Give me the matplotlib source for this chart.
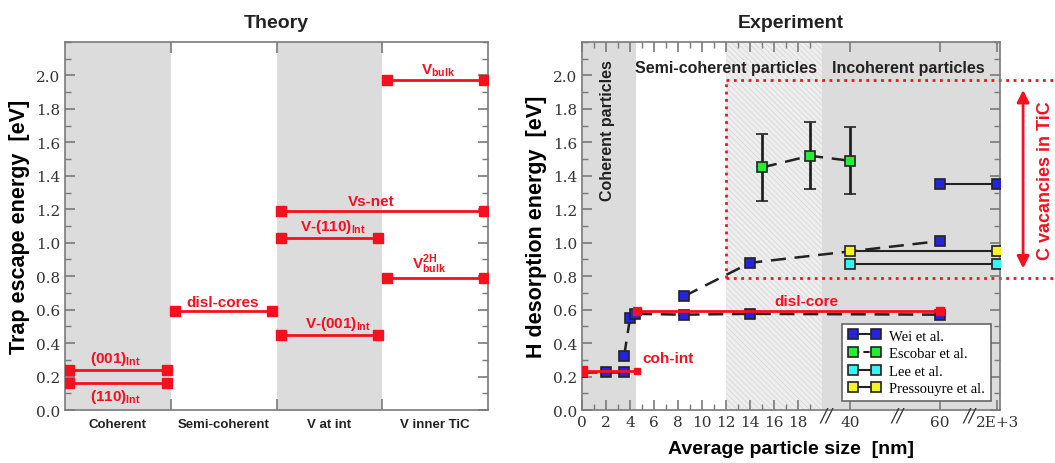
import numpy as np
import matplotlib
matplotlib.use('Agg')
import matplotlib.pyplot as plt
from matplotlib.lines import Line2D
from matplotlib.ticker import MultipleLocator, FixedLocator

plt.rcParams['font.family'] = ['Liberation Sans', 'DejaVu Sans']
plt.rcParams['mathtext.fontset'] = 'custom'
plt.rcParams['mathtext.rm'] = 'Liberation Sans:bold'
plt.rcParams['mathtext.bf'] = 'Liberation Sans:bold'
plt.rcParams['hatch.linewidth'] = 0.5

RED = '#f5101e'
GRAY = '#dcdcdc'
SPINE = '#7a7a7a'
TICKFONT = 'DejaVu Serif'

# ---- theory panel data ----
categories = ['Coherent', 'Semi-coherent', 'V at int', 'V inner TiC']
theory_labels = [r'(001)$_{\mathbf{Int}}$', r'(110)$_{\mathbf{Int}}$', 'disl-cores',
                 r'V-(001)$_{\mathbf{Int}}$', r'V-(110)$_{\mathbf{Int}}$', 'Vs-net',
                 r'V$_{\mathbf{bulk}}$', r'V$_{\mathbf{bulk}}^{\mathbf{2H}}$']
theory_energy = [0.24, 0.16, 0.59, 0.45, 1.03, 1.19, 1.97, 0.79]
theory_first_cat = [0, 0, 1, 2, 2, 2, 3, 3]
theory_last_cat = [0, 0, 1, 2, 2, 3, 3, 3]

# ---- experiment panel data (particle size in nm, energy in eV) ----
wei_low_size = [0, 2, 3.5]
wei_low_e = [0.23, 0.23, 0.23]
wei_disl_size = [3.5, 4, 4.4, 8.5, 14, 60]
wei_disl_e = [0.32, 0.55, 0.575, 0.57, 0.575, 0.57]
wei_vac_size = [8.5, 14, 60]
wei_vac_e = [0.68, 0.88, 1.01]
wei_inc_size = [60, 2000]
wei_inc_e = [1.35, 1.35]
escobar_size = [15, 19, 40]
escobar_e = [1.45, 1.52, 1.49]
escobar_err = [0.2, 0.2, 0.2]
lee_size = [40, 2000]
lee_e = [0.87, 0.87]
pressouyre_size = [40, 2000]
pressouyre_e = [0.95, 0.95]
cohint_size = [0, 4.6]
cohint_e = [0.235, 0.235]
dislcore_size = [4.6, 60]
dislcore_e = [0.59, 0.59]
vac_band = [0.79, 1.97]

size_ticks = [0, 2, 4, 6, 8, 10, 12, 14, 16, 18, 40, 60, 2000]
size_ticklabels = ['0', '2', '4', '6', '8', '10', '12', '14', '16', '18', '40', '60', '2E+3']

# broken axis: real size -> axis position
real_nodes = [0, 20, 40, 60, 2000]
axis_nodes = [0, 20, 22.33, 29.83, 34.6]


def pos(x):
    return np.interp(x, real_nodes, axis_nodes)


def style_axis(ax):
    for s in ax.spines.values():
        s.set_color(SPINE)
        s.set_linewidth(1.2)
    ax.tick_params(which='both', direction='in', top=True, right=True, color=SPINE)
    ax.tick_params(which='major', length=7, width=1.2)
    ax.tick_params(which='minor', length=4, width=1.0)
    ax.set_ylim(0, 2.2)
    ax.yaxis.set_major_locator(MultipleLocator(0.2))
    ax.yaxis.set_minor_locator(MultipleLocator(0.1))
    ax.set_yticks(np.arange(0, 2.01, 0.2))
    ax.set_yticklabels([f'{v:.1f}' for v in np.arange(0, 2.01, 0.2)],
                       fontfamily=TICKFONT, fontsize=11, color='#333333')


fig = plt.figure(figsize=(10.55, 4.64), dpi=100)

# ================= Theory =================
ax1 = fig.add_axes([0.0616, 0.1142, 0.401, 0.7931])
style_axis(ax1)
ax1.set_xlim(0, 4)
for i in range(len(categories)):
    if i % 2 == 0:
        ax1.axvspan(i, i + 1, color=GRAY, lw=0, zorder=0)
ax1.xaxis.set_major_locator(FixedLocator([1, 2, 3]))
ax1.xaxis.set_minor_locator(FixedLocator([0.5, 1.5, 2.5, 3.5]))
ax1.set_xticklabels([])
ax1.set_xticklabels(categories, minor=True, fontsize=9.5, fontweight='bold', color='#222222')
ax1.tick_params(axis='x', which='minor', length=0, pad=6)
ax1.tick_params(axis='x', which='major', length=8)

label_dx = [-0.02, -0.02, -0.01, 0.08, 0.03, -0.1, 0.03, -0.06]
for name, e, c0, c1, dx in zip(theory_labels, theory_energy, theory_first_cat,
                               theory_last_cat, label_dx):
    x0, x1 = c0 + 0.04, c1 + 0.96
    ax1.plot([x0, x1], [e, e], color=RED, lw=2, marker='s', ms=6.5, mec=RED, zorder=3)
    below = name.startswith('(110)')
    ax1.annotate(name, ((x0 + x1) / 2 + dx, e), xytext=(0, -3 if below else 2),
                 textcoords='offset points', ha='center',
                 va='top' if below else 'bottom', color=RED,
                 fontsize=11, fontweight='bold')

ax1.set_ylabel('Trap escape energy  [eV]', fontsize=15.5, fontweight='bold', labelpad=4)
ax1.set_title('Theory', fontsize=14, fontweight='bold', pad=11, color='#222222')

# ================= Experiment =================
ax2 = fig.add_axes([0.5517, 0.1142, 0.3962, 0.7931])
style_axis(ax2)
ax2.set_xlim(0, 34.83)
ax2.axvspan(0, pos(4.5), color=GRAY, lw=0, zorder=0)
ax2.axvspan(pos(12), pos(20), facecolor='#eeeeee', edgecolor='#d4d4d4',
            hatch='\\\\\\\\\\\\', lw=0, zorder=0)
ax2.axvspan(pos(20), 34.83, color=GRAY, lw=0, zorder=0)

ax2.set_xticks(pos(size_ticks))
ax2.set_xticklabels(size_ticklabels, fontfamily=TICKFONT, fontsize=11, color='#333333')
ax2.xaxis.set_minor_locator(FixedLocator(np.arange(1, 20, 2)))

# break marks
for bx in [20.4, 26.25, 32.3]:
    ax2.text(bx, -0.03, '//', fontsize=13, fontfamily=TICKFONT, ha='center',
             va='center', clip_on=False, color='#333333', style='italic')

# C-vacancy band (dotted box running out of the axes)
ax2.plot([pos(12), pos(12)], vac_band, ls=':', color=RED, lw=2, zorder=1)
for yv in vac_band:
    ax2.plot([pos(12), 39.5], [yv, yv], ls=':', color=RED, lw=2, zorder=1, clip_on=False)
ax2.annotate('', xy=(36.75, vac_band[1] - 0.04), xytext=(36.75, vac_band[0] + 0.04),
             arrowprops=dict(arrowstyle='<|-|>', color=RED, lw=2, mutation_scale=18),
             annotation_clip=False)
ax2.text(38.6, sum(vac_band) / 2, 'C vacancies in TiC', rotation=90, color=RED,
         fontsize=13, fontweight='bold', ha='center', va='center', clip_on=False)

mk = dict(marker='s', ms=7.5, mec='#222222', mew=1.2)
dash = (0, (6, 3.5))
ax2.plot(pos(wei_low_size), wei_low_e, color='#222222', lw=1.8, ls=dash, mfc='#2424dd', zorder=4, **mk)
ax2.plot(pos(wei_disl_size), wei_disl_e, color='#222222', lw=1.8, ls=dash, mfc='#2424dd', zorder=4, **mk)
ax2.plot(pos(wei_vac_size), wei_vac_e, color='#222222', lw=1.8, ls=dash, mfc='#2424dd', zorder=4, **mk)
ax2.plot(pos(wei_inc_size), wei_inc_e, color='#222222', lw=1.5, mfc='#2424dd', zorder=4, **mk)
ax2.errorbar(pos(escobar_size), escobar_e, yerr=escobar_err, color='#222222', lw=1.8,
             ls=dash, mfc='#22ee33', capsize=4.5, capthick=1.8, elinewidth=2, zorder=4, **mk)
ax2.plot(pos(lee_size), lee_e, color='#222222', lw=1.5, mfc='#33f5f5', zorder=4, **mk)
ax2.plot(pos(pressouyre_size), pressouyre_e, color='#222222', lw=1.5, mfc='#f5f522', zorder=4, **mk)

ax2.plot(pos(cohint_size), cohint_e, color=RED, lw=2, zorder=5)
ax2.plot(pos(cohint_size[:1]), cohint_e[:1], ls='none', marker='s', ms=6.5, color=RED, zorder=5)
ax2.plot(pos(cohint_size[1:]), cohint_e[1:], ls='none', marker='s', ms=5, color=RED, zorder=5)
ax2.plot(pos(dislcore_size), dislcore_e, color=RED, lw=2, marker='s', ms=6, mec=RED, zorder=5)
ax2.text(pos(5.0), 0.27, 'coh-int', color=RED, fontsize=11, fontweight='bold', va='bottom')
ax2.text(pos(18.7), 0.61, 'disl-core', color=RED, fontsize=11, fontweight='bold',
         ha='center', va='bottom')

ax2.text(pos(2.1), 2.1, 'Coherent particles', rotation=90, fontsize=11.5,
         fontweight='bold', ha='center', va='top', color='#222222')
ax2.text(pos(12.0), 2.05, 'Semi-coherent particles', fontsize=11.5,
         fontweight='bold', ha='center', va='center', color='#222222')
ax2.text(27.2, 2.05, 'Incoherent particles', fontsize=11.5,
         fontweight='bold', ha='center', va='center', color='#222222')

handles = [
    Line2D([], [], color='#222222', lw=1.5, mfc='#2424dd', **mk),
    Line2D([], [], color='#222222', lw=1.5, ls=(0, (3, 2)), mfc='#22ee33', **mk),
    Line2D([], [], color='#222222', lw=1.5, mfc='#33f5f5', **mk),
    Line2D([], [], color='#222222', lw=1.5, mfc='#f5f522', **mk),
]
leg = ax2.legend(handles, ['Wei et al.', 'Escobar et al.', 'Lee et al.', 'Pressouyre et al.'],
                 loc='lower right', bbox_to_anchor=(0.978, 0.024), borderaxespad=0,
                 numpoints=2, handlelength=2.2, handletextpad=0.6, labelspacing=0.3,
                 fancybox=False, framealpha=1, edgecolor='#666666',
                 prop={'family': 'Liberation Serif', 'size': 10.5})
leg.get_frame().set_linewidth(1.2)
leg.set_zorder(6)

ax2.set_xlabel('Average particle size  [nm]', fontsize=14, fontweight='bold', labelpad=8)
ax2.set_ylabel('H desorption energy  [eV]', fontsize=15.5, fontweight='bold', labelpad=4)
ax2.set_title('Experiment', fontsize=14, fontweight='bold', pad=11, color='#222222')

fig.savefig('out.png', dpi=100)
